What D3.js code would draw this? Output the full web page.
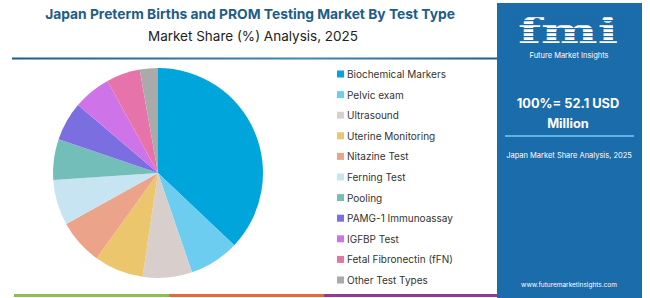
<!DOCTYPE html>
<html lang="en">
<head>
    <meta charset="UTF-8">
    <title>Japan Preterm Births and PROM Testing Market By Test Type</title>
    <script src="https://d3js.org/d3.v7.min.js" charset="utf-8"></script>
    <style>
        body, html {
            margin: 0;
            padding: 0;
            width: 100%;
            height: 100%;
            overflow: hidden;
            background: #ffffff;
        }
        text {
            font-family: Inter, "Open Sans", sans-serif;
        }
    </style>
</head>
<body>
    <svg id="chart"></svg>

    <script>
        // SVG size
        const width = 650;
        const height = 298;

        // data (share in %)
        const categories = ['Biochemical Markers', 'Pelvic exam', 'Ultrasound', 'Uterine Monitoring',
            'Nitazine Test', 'Ferning Test', 'Pooling', 'PAMG-1 Immunoassay', 'IGFBP Test',
            'Fetal Fibronectin (fFN)', 'Other Test Types'];
        const shares = [37.1, 7.7, 7.6, 7.6, 7.0, 7.0, 6.3, 6.0, 5.8, 5.2, 2.8];
        const colors = ['#00a5dc', '#6dcdf0', '#d8cfcc', '#ecc66c', '#eba48a', '#c7e4f3',
            '#73beb8', '#7b6ee0', '#cf74e8', '#e674aa', '#aaaaaa'];

        const titleText = 'Japan Preterm Births and PROM Testing Market By Test Type';
        const subtitleText = 'Market Share (%) Analysis, 2025';
        const totalText = ['100%= 52.1 USD', 'Million'];
        const panelSub = 'Japan Market Share Analysis, 2025';

        const data = categories.map((c, i) => ({ name: c, value: shares[i] }));

        const svg = d3.select('#chart')
            .attr('width', width)
            .attr('height', height);

        // gradient for the line under the title
        const defs = svg.append('defs');
        const grad = defs.append('linearGradient').attr('id', 'topline');
        grad.append('stop').attr('offset', '0%').attr('stop-color', '#1f5d86');
        grad.append('stop').attr('offset', '60%').attr('stop-color', '#3d86b8');
        grad.append('stop').attr('offset', '100%').attr('stop-color', '#1f5d86');

        // titles
        svg.append('text')
            .attr('x', 250)
            .attr('y', 19)
            .attr('text-anchor', 'middle')
            .style('font-size', '13.8px')
            .style('font-weight', 'bold')
            .style('fill', '#1d5d89')
            .text(titleText);

        svg.append('text')
            .attr('x', 253)
            .attr('y', 41)
            .attr('text-anchor', 'middle')
            .style('font-size', '13.5px')
            .style('fill', '#222')
            .text(subtitleText);

        svg.append('rect')
            .attr('x', 12).attr('y', 57.5)
            .attr('width', 490).attr('height', 2)
            .style('fill', 'url(#topline)');

        // bottom colour strip
        const strip = [['#8cc04a', 14, 169], ['#e8683a', 169, 324], ['#8e3a96', 324, 500]];
        svg.selectAll('.strip')
            .data(strip)
            .join('rect')
            .attr('class', 'strip')
            .attr('x', d => d[1])
            .attr('y', 294)
            .attr('width', d => d[2] - d[1])
            .attr('height', 3)
            .style('fill', d => d[0]);

        // pie
        const radius = 105;
        const pie = d3.pie().value(d => d.value).sort(null);
        const arc = d3.arc().innerRadius(0).outerRadius(radius);

        const pieG = svg.append('g')
            .attr('transform', 'translate(158,173)');

        pieG.selectAll('path')
            .data(pie(data))
            .join('path')
            .attr('d', arc)
            .style('fill', (d, i) => colors[i]);

        // legend
        const legendRectSize = 7;
        const legendY = d3.scalePoint()
            .domain(categories)
            .range([74, 280]);

        const legend = svg.append('g')
            .attr('transform', 'translate(337,0)');

        legend.selectAll('rect')
            .data(categories)
            .join('rect')
            .attr('x', 0)
            .attr('y', d => legendY(d) - legendRectSize / 2)
            .attr('width', legendRectSize)
            .attr('height', legendRectSize)
            .style('fill', (d, i) => colors[i]);

        legend.selectAll('text')
            .data(categories)
            .join('text')
            .attr('x', legendRectSize + 3)
            .attr('y', d => legendY(d))
            .attr('dominant-baseline', 'central')
            .style('font-size', '10px')
            .style('fill', '#333')
            .text(d => d);

        // right panel
        const panel = svg.append('g');
        panel.append('rect')
            .attr('x', 497).attr('y', 3)
            .attr('width', 145).attr('height', 295)
            .style('fill', '#1b6cab');

        // fmi logo
        panel.append('text')
            .attr('x', 518)
            .attr('y', 43)
            .attr('textLength', 100)
            .attr('lengthAdjust', 'spacingAndGlyphs')
            .style('font-family', '"DejaVu Serif", serif')
            .style('font-size', '36px')
            .style('font-weight', 'bold')
            .style('fill', '#ffffff')
            .text('fmi');

        // stripes over the logo letters
        panel.selectAll('.stripe')
            .data(d3.range(16, 44, 4))
            .join('rect')
            .attr('class', 'stripe')
            .attr('x', 515)
            .attr('y', d => d)
            .attr('width', 106)
            .attr('height', 1.2)
            .style('fill', '#1b6cab');

        panel.append('text')
            .attr('x', 569)
            .attr('y', 58)
            .attr('text-anchor', 'middle')
            .style('font-size', '7.5px')
            .style('fill', '#ffffff')
            .text('Future Market Insights');

        panel.selectAll('.total')
            .data(totalText)
            .join('text')
            .attr('class', 'total')
            .attr('x', 568)
            .attr('y', (d, i) => 108 + i * 20)
            .attr('text-anchor', 'middle')
            .style('font-size', '12.8px')
            .style('font-weight', 'bold')
            .style('fill', '#ffffff')
            .text(d => d);

        panel.append('rect')
            .attr('x', 505).attr('y', 135)
            .attr('width', 129).attr('height', 2)
            .style('fill', '#5fb2e6');

        panel.append('text')
            .attr('x', 569)
            .attr('y', 158)
            .attr('text-anchor', 'middle')
            .style('font-size', '7.5px')
            .style('fill', '#ffffff')
            .text(panelSub);

        panel.append('text')
            .attr('x', 569)
            .attr('y', 287)
            .attr('text-anchor', 'middle')
            .style('font-size', '6.5px')
            .style('fill', '#ffffff')
            .text('www.futuremarketinsights.com');
    </script>
</body>
</html>
